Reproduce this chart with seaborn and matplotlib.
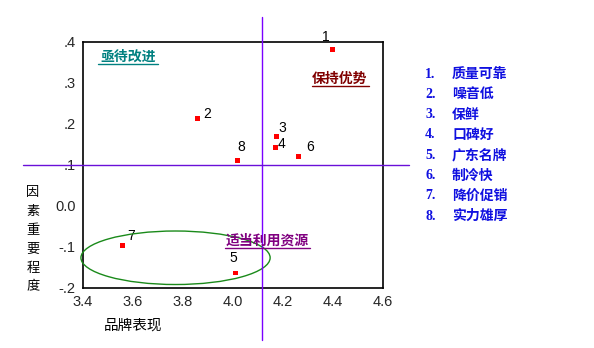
import matplotlib
matplotlib.use("Agg")
import matplotlib.pyplot as plt
import seaborn as sns
import pandas as pd
from matplotlib.patches import Ellipse
from matplotlib.lines import Line2D

# ---- data ----
ids = ["1", "2", "3", "4", "5", "6", "7", "8"]
brand_perf = [4.397, 3.86, 4.173, 4.169, 4.012, 4.261, 3.56, 4.02]
importance = [0.380, 0.212, 0.169, 0.141, -0.164, 0.119, -0.098, 0.111]
names = ["质量可靠", "噪音低", "保鲜", "口碑好", "广东名牌", "制冷快", "降价促销", "实力雄厚"]
x_ticks = [3.4, 3.6, 3.8, 4.0, 4.2, 4.4, 4.6]
x_ticklabels = ["3.4", "3.6", "3.8", "4.0", "4.2", "4.4", "4.6"]
y_ticks = [-0.2, -0.1, 0.0, 0.1, 0.2, 0.3, 0.4]
y_ticklabels = ["-.2", "-.1", "0.0", ".1", ".2", ".3", ".4"]
x_mean = 4.118
y_mean = 0.1
quad_labels = ["亟待改进", "保持优势", "适当利用资源"]
xlabel = "品牌表现"
ylabel = "因素重要程度"

df = pd.DataFrame({"x": brand_perf, "y": importance, "id": ids})

sns.set_style("white")
plt.rcParams["font.family"] = ["Liberation Sans", "Noto Sans CJK SC", "DejaVu Sans"]
cjk = ["Noto Sans CJK SC", "DejaVu Sans"]

fig = plt.figure(figsize=(5.94, 3.48), dpi=100)
ax = fig.add_axes([0.1392, 0.1733, 0.5056, 0.7069])

sns.scatterplot(data=df, x="x", y="y", ax=ax, marker="s", color="#ff0000",
                s=12, edgecolor="none", zorder=5, legend=False)

offsets = {"1": (-6, 13), "2": (9, 5), "3": (6, 8), "4": (6, 4),
           "5": (-3, 15), "6": (12, 10), "7": (8, 10), "8": (3, 13)}
for xi, yi, lab in zip(brand_perf, importance, ids):
    dx, dy = offsets[lab]
    ax.annotate(lab, (xi, yi), xytext=(dx, dy), textcoords="offset pixels",
                ha="center", va="center", fontsize=10, color="black",
                annotation_clip=False)

ax.set_xlim(3.4, 4.6)
ax.set_ylim(-0.2, 0.4)
ax.set_xticks(x_ticks)
ax.set_xticklabels(x_ticklabels)
ax.set_yticks(y_ticks)
ax.set_yticklabels(y_ticklabels)
ax.tick_params(axis="both", direction="out", length=3, width=1.2, color="black",
               labelsize=10.5, pad=2)
for sp in ax.spines.values():
    sp.set_visible(True)
    sp.set_color("black")
    sp.set_linewidth(1.2)
ax.set_xlabel("")
ax.set_ylabel("")

# reference lines extending beyond the frame
ax.axvline(x_mean, ymin=-0.2126, ymax=1.1004, color="#7a00ff", lw=1.0,
           clip_on=False, zorder=4)
ax.axhline(y_mean, xmin=-0.199, xmax=1.0866, color="#6a10d8", lw=1.0,
           clip_on=False, zorder=4)

ell = Ellipse((3.771, -0.127), 0.756, 0.1305, fill=False, edgecolor="#1a8a1a",
              lw=1.0, zorder=3, clip_on=False)
ax.add_patch(ell)

# quadrant labels (pixel positions converted to figure coords)
W, H = 594.0, 348.0
def fx(px):
    return px / W
def fy(py):
    return 1 - py / H

quad_specs = [
    (quad_labels[0], 128, 57, "#008080", 98, 158),
    (quad_labels[1], 340, 79, "#800000", 312, 369),
    (quad_labels[2], 267, 241, "#800080", 225, 310),
]
for txt, cx, cy, col, x0, x1 in quad_specs:
    fig.text(fx(cx), fy(cy), txt, ha="center", va="center", fontsize=10,
             fontweight="bold", color=col, family=cjk)
    fig.add_artist(Line2D([fx(x0), fx(x1)], [fy(cy + 7), fy(cy + 7)],
                          color=col, lw=1.0))

# axis titles
fig.text(fx(133), fy(326), xlabel, ha="center", va="center", fontsize=10.5,
         family=cjk, color="black")
for i, ch in enumerate(ylabel):
    fig.text(fx(33), fy(192.5 + i * 18.9), ch, ha="center", va="center",
             fontsize=9.5, family=cjk, color="black")

# right-hand key
for i, (n, name) in enumerate(zip(ids, names)):
    yy = 74 + i * 20.3
    fig.text(fx(425), fy(yy), n + ".", ha="left", va="center", fontsize=10,
             fontweight="bold", color="#1010e0", family=["Liberation Serif", "DejaVu Serif"])
    fig.text(fx(452), fy(yy), name, ha="left", va="center", fontsize=10,
             fontweight="bold", color="#1010e0", family=cjk)

fig.savefig("out.png", dpi=100)
